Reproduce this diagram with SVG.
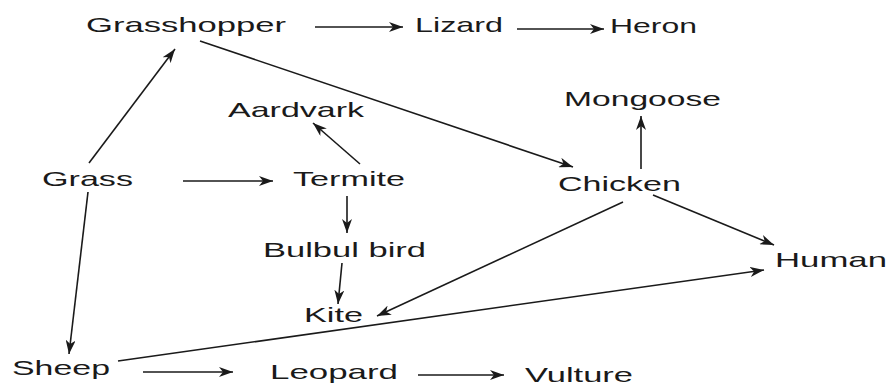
<svg xmlns="http://www.w3.org/2000/svg" width="889" height="387" viewBox="0 0 889 387">
<defs>
<style>
.t{font-family:"Liberation Sans",Arial,sans-serif;font-size:21px;fill:#1a1a1a}
.c line{stroke:#1a1a1a;stroke-width:1.6;fill:none;marker-end:url(#ah)}
</style>
<marker id="ah" markerUnits="userSpaceOnUse" viewBox="0 0 14 10" refX="14" refY="5" markerWidth="14" markerHeight="10" orient="auto">
<path d="M0,0 L14,5 L0,10 L4,5 Z" fill="#1a1a1a"/>
</marker>
</defs>
<rect width="889" height="387" fill="#fff"/>
<g class="c" id="connectors">
<line x1="315" y1="27" x2="403" y2="27"/>
<line x1="517" y1="29" x2="604" y2="29"/>
<line x1="89" y1="163" x2="175" y2="49"/>
<line x1="200" y1="41" x2="573" y2="167"/>
<line x1="183" y1="181" x2="273" y2="181"/>
<line x1="360" y1="164" x2="313" y2="123"/>
<line x1="347" y1="196" x2="347" y2="233"/>
<line x1="342" y1="263" x2="338" y2="304"/>
<line x1="641" y1="169" x2="641" y2="116"/>
<line x1="653" y1="195" x2="774" y2="245"/>
<line x1="623" y1="202" x2="377" y2="316"/>
<line x1="118" y1="361" x2="764" y2="270"/>
<line x1="88" y1="192" x2="69" y2="354"/>
<line x1="143" y1="372" x2="233" y2="372"/>
<line x1="418" y1="375" x2="504" y2="375"/>
</g>
<g id="grasshopper"><text class="t" x="86" y="32" textLength="200" lengthAdjust="spacingAndGlyphs">Grasshopper</text></g>
<g id="lizard"><text class="t" x="415" y="32" textLength="88" lengthAdjust="spacingAndGlyphs">Lizard</text></g>
<g id="heron"><text class="t" x="610" y="33" textLength="87" lengthAdjust="spacingAndGlyphs">Heron</text></g>
<g id="aardvark"><text class="t" x="228" y="117" textLength="136" lengthAdjust="spacingAndGlyphs">Aardvark</text></g>
<g id="mongoose"><text class="t" x="564" y="106" textLength="157" lengthAdjust="spacingAndGlyphs">Mongoose</text></g>
<g id="grass"><text class="t" x="42" y="186" textLength="91" lengthAdjust="spacingAndGlyphs">Grass</text></g>
<g id="termite"><text class="t" x="293" y="186" textLength="112" lengthAdjust="spacingAndGlyphs">Termite</text></g>
<g id="chicken"><text class="t" x="558" y="191" textLength="123" lengthAdjust="spacingAndGlyphs">Chicken</text></g>
<g id="bulbul"><text class="t" x="263" y="257" textLength="163" lengthAdjust="spacingAndGlyphs">Bulbul bird</text></g>
<g id="human"><text class="t" x="775" y="267" textLength="112" lengthAdjust="spacingAndGlyphs">Human</text></g>
<g id="kite"><text class="t" x="304" y="322" textLength="59" lengthAdjust="spacingAndGlyphs">Kite</text></g>
<g id="sheep"><text class="t" x="12" y="375" textLength="98" lengthAdjust="spacingAndGlyphs">Sheep</text></g>
<g id="leopard"><text class="t" x="270" y="379" textLength="128" lengthAdjust="spacingAndGlyphs">Leopard</text></g>
<g id="vulture"><text class="t" x="525" y="382" textLength="108" lengthAdjust="spacingAndGlyphs">Vulture</text></g>
</svg>
